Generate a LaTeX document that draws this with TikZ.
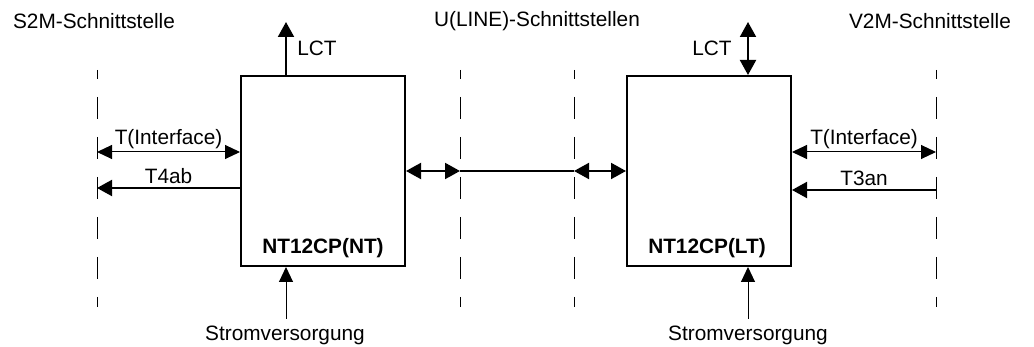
\documentclass[tikz,border=0pt]{standalone}
\usepackage{fontspec}
\setmainfont{Liberation Sans}
\usetikzlibrary{arrows.meta}

\tikzset{
  unit/.style={draw, line width=1pt, minimum width=82pt, minimum height=95pt, inner sep=0pt},
  iface/.style={line width=0.5pt, dash pattern=on 11pt off 9pt, dash phase=6.5pt},
  sig/.style={line width=1pt, >={Triangle[length=7.5pt,width=8pt]}},
  thinsig/.style={line width=0.5pt, >={Triangle[length=7.5pt,width=7pt]}},
}

\begin{document}
\begin{tikzpicture}[x=0.5pt, y=-0.5pt, font=\fontsize{10.4}{12}\selectfont]
    \useasboundingbox (0,0) rectangle (1034,347);

    % interface titles
    \node[anchor=west] (s2m) at (6,21) {S2M-Schnittstelle};
    \node (uline) at (537,21) {U(LINE)-Schnittstellen};
    \node (v2m) at (930,21) {V2M-Schnittstelle};

    % interface boundaries
    \coordinate (s2mT) at (97,70);   \coordinate (s2mB) at (97,307);
    \coordinate (uLT) at (460,70);   \coordinate (uLB) at (460,307);
    \coordinate (uRT) at (574,70);   \coordinate (uRB) at (574,307);
    \coordinate (v2mT) at (936,70);  \coordinate (v2mB) at (936,307);
    \draw[iface] (s2mT) -- (s2mB);
    \draw[iface] (uLT) -- (uLB);
    \draw[iface] (uRT) -- (uRB);
    \draw[iface] (v2mT) -- (v2mB);

    % units
    \node[unit] (nt) at (323,171) {};
    \node[unit] (lt) at (709,171) {};
    \node[font=\fontsize{10.4}{12}\selectfont\bfseries] (ntLbl) at (323,248) {NT12CP(NT)};
    \node[font=\fontsize{10.4}{12}\selectfont\bfseries] (ltLbl) at (707,248) {NT12CP(LT)};

    % LCT
    \coordinate (lctNT) at (286,22);
    \coordinate (lctLT) at (748,22);
    \draw[sig,->] (lctNT |- nt.north) -- (lctNT);
    \draw[sig,<->] (lctLT |- lt.north) -- (lctLT);
    \node (lctNTLbl) at (317,48) {LCT};
    \node (lctLTLbl) at (712,48) {LCT};

    % S2M side
    \coordinate (tifNT) at (97,152);
    \coordinate (t4ab) at (97,188);
    \draw[thinsig,<->] (tifNT) -- node[above, inner sep=1.5pt] (tifNTLbl) {T(Interface)} (tifNT -| nt.west);
    \draw[sig,->] (t4ab -| nt.west) -- node[above, inner sep=1.5pt] (t4abLbl) {T4ab} (t4ab);

    % V2M side
    \coordinate (tifLT) at (936,152);
    \coordinate (t3an) at (936,190);
    \draw[thinsig,<->] (tifLT -| lt.east) -- node[above, inner sep=1.5pt] (tifLTLbl) {T(Interface)} (tifLT);
    \draw[sig,->] (t3an) -- node[above, inner sep=1.5pt] (t3anLbl) {T3an} (t3an -| lt.east);

    % U(LINE)
    \draw[sig,<->] (nt.east) -- (uLB |- nt.east);
    \draw[sig] (uLB |- nt.east) -- (uRB |- lt.west);
    \draw[sig,<->] (uRB |- lt.west) -- (lt.west);

    % power supply
    \node (pwrNT) at (285,335) {Stromversorgung};
    \node (pwrLT) at (748,335) {Stromversorgung};
    \draw[thinsig,->] (pwrNT.north -| lctNT) -- (lctNT |- nt.south);
    \draw[thinsig,->] (pwrLT.north) -- (pwrLT |- lt.south);
  \end{tikzpicture}
\end{document}
